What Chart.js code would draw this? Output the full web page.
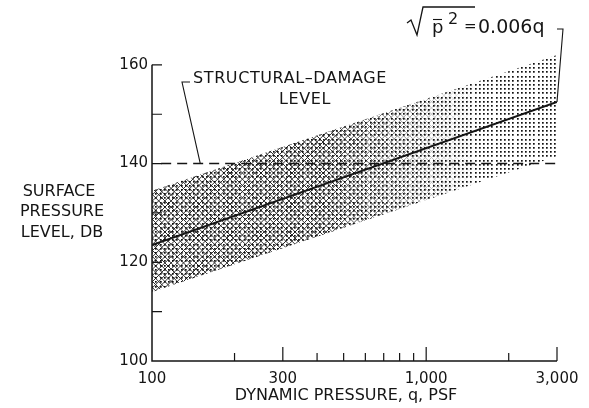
<!DOCTYPE html>
<html>
<head>
<meta charset="utf-8">
<script src="https://cdn.jsdelivr.net/npm/chart.js@4/dist/chart.umd.min.js"></script>
<style>
  html, body { margin: 0; padding: 0; background: #fff; }
  #wrap { width: 589px; height: 408px; }
</style>
</head>
<body>
<div id="wrap"><canvas id="g_ruido"></canvas></div>
<script>
// valores
var q_extremos = [100, 3000];
var nivel_medio = [123.5, 152.5];
var banda_superior = [134.5, 162];
var banda_inferior = [114, 141.5];
var nivel_dano = [140, 140];

var x_mayores = [100, 300, 1000, 3000];
var x_etiquetas = ['100', '300', '1,000', '3,000'];
var x_menores = [200, 400, 500, 600, 700, 800, 900, 2000];
var y_marcas = [110, 120, 130, 140, 150, 160];
var y_etiquetas = [100, 120, 140, 160];

var FUENTE = '"DejaVu Sans", sans-serif';
var TINTA = '#151515';

function puntos(xs, ys) {
    var d = [];
    for (let i = 0; i < xs.length; i++) {
        d.push({x: xs[i], y: ys[i]});
    }
    return d;
}

// trama: puntos por todo y rayado cruzado que se desvanece hacia la derecha
function trama(ctx) {
    var w = 589, h = 408;
    var base = document.createElement('canvas');
    base.width = w; base.height = h;
    var b = base.getContext('2d');

    var raya = document.createElement('canvas');
    raya.width = w; raya.height = h;
    var r = raya.getContext('2d');
    r.strokeStyle = '#222';
    r.lineWidth = 1;
    r.beginPath();
    for (let k = -h; k < w + h; k += 6.2) {
        r.moveTo(k, 0); r.lineTo(k + h, h);
        r.moveTo(k, h); r.lineTo(k + h, 0);
    }
    r.stroke();
    r.globalCompositeOperation = 'destination-in';
    var g = r.createLinearGradient(320, 0, 480, 0);
    g.addColorStop(0, 'rgba(0,0,0,0.95)');
    g.addColorStop(1, 'rgba(0,0,0,0)');
    r.fillStyle = g;
    r.fillRect(0, 0, w, h);

    b.drawImage(raya, 0, 0);
    b.fillStyle = '#111';
    for (let y = 0; y < h; y += 4.2) {
        for (let x = 0; x < w; x += 4.2) {
            b.fillRect(Math.round(x), Math.round(y), 1.7, 1.7);
        }
    }
    return ctx.createPattern(base, 'repeat');
}

var decorado = {
    id: 'decorado',
    afterDatasetsDraw: function (chart) {
        var ctx = chart.ctx;
        var sx = chart.scales.x, sy = chart.scales.y;
        var x0 = sx.getPixelForValue(100), x1 = sx.getPixelForValue(3000);
        var y0 = sy.getPixelForValue(100), y1 = sy.getPixelForValue(160);
        ctx.save();
        ctx.strokeStyle = TINTA;
        ctx.fillStyle = TINTA;
        ctx.lineWidth = 1.5;

        // ejes
        ctx.beginPath();
        ctx.moveTo(x0, y1); ctx.lineTo(x0, y0); ctx.lineTo(x1, y0);
        ctx.stroke();

        ctx.lineWidth = 1.2;
        ctx.beginPath();
        for (let i = 0; i < y_marcas.length; i++) {
            var py = sy.getPixelForValue(y_marcas[i]);
            ctx.moveTo(x0, py); ctx.lineTo(x0 + 10, py);
        }
        for (let i = 1; i < x_mayores.length; i++) {
            var px = sx.getPixelForValue(x_mayores[i]);
            ctx.moveTo(px, y0); ctx.lineTo(px, y0 - 14);
        }
        for (let i = 0; i < x_menores.length; i++) {
            var pm = sx.getPixelForValue(x_menores[i]);
            ctx.moveTo(pm, y0); ctx.lineTo(pm, y0 - 8);
        }
        ctx.stroke();

        // etiquetas de marcas
        ctx.font = '15px ' + FUENTE;
        ctx.textAlign = 'right';
        ctx.textBaseline = 'middle';
        for (let i = 0; i < y_etiquetas.length; i++) {
            ctx.fillText(String(y_etiquetas[i]), x0 - 4, sy.getPixelForValue(y_etiquetas[i]));
        }
        ctx.textAlign = 'center';
        for (let i = 0; i < x_mayores.length; i++) {
            ctx.fillText(x_etiquetas[i], sx.getPixelForValue(x_mayores[i]), y0 + 18);
        }

        // titulos
        ctx.font = '16px ' + FUENTE;
        ctx.fillText('DYNAMIC PRESSURE, q, PSF', 346, 396);
        ctx.fillText('SURFACE', 59, 192);
        ctx.fillText('PRESSURE', 62, 212);
        ctx.fillText('LEVEL, DB', 62, 233);

        // nota del nivel de dano estructural
        ctx.letterSpacing = '0.6px';
        ctx.textAlign = 'left';
        ctx.fillText('STRUCTURAL\u2013DAMAGE', 193, 79);
        ctx.textAlign = 'center';
        ctx.fillText('LEVEL', 305, 100);
        ctx.letterSpacing = '0px';
        ctx.lineWidth = 1.1;
        ctx.beginPath();
        ctx.moveTo(190, 82); ctx.lineTo(182, 82);
        ctx.lineTo(sx.getPixelForValue(150), sy.getPixelForValue(140));
        ctx.stroke();

        // formula: raiz dibujada, resto como texto
        ctx.lineWidth = 1.3;
        ctx.beginPath();
        ctx.moveTo(407, 23); ctx.lineTo(411, 20); ctx.lineTo(417, 35);
        ctx.lineTo(423, 7); ctx.lineTo(475, 7);
        ctx.stroke();
        ctx.textAlign = 'left';
        ctx.textBaseline = 'alphabetic';
        ctx.font = '18px ' + FUENTE;
        ctx.fillText('p', 432, 33);
        ctx.lineWidth = 1.1;
        ctx.beginPath();
        ctx.moveTo(433, 19.5); ctx.lineTo(442, 19.5);
        ctx.stroke();
        ctx.font = '16px ' + FUENTE;
        ctx.fillText('2', 448, 24);
        ctx.font = '15px ' + FUENTE;
        ctx.fillText('=', 464, 31);
        ctx.font = '19px ' + FUENTE;
        ctx.fillText('0.006q', 478, 33);
        ctx.beginPath();
        ctx.moveTo(557, 29); ctx.lineTo(563, 29);
        ctx.lineTo(x1, sy.getPixelForValue(nivel_medio[1]));
        ctx.stroke();

        ctx.restore();
    }
};

function grafica_ruido() {
    var lienzo = document.getElementById('g_ruido');
    var ctx = lienzo.getContext('2d');

    new Chart(lienzo, {
        type: 'line',
        data: {
            datasets: [{
                data: puntos(q_extremos, banda_superior),
                borderWidth: 0,
                pointRadius: 0,
                backgroundColor: trama(ctx),
                fill: '+1'
            }, {
                data: puntos(q_extremos, banda_inferior),
                borderWidth: 0,
                pointRadius: 0,
                fill: false
            }, {
                data: puntos(q_extremos, nivel_medio),
                borderColor: TINTA,
                borderWidth: 2,
                pointRadius: 0,
                fill: false
            }, {
                data: puntos([108, 3000], nivel_dano),
                borderColor: TINTA,
                borderWidth: 1.5,
                borderDash: [10, 6],
                pointRadius: 0,
                fill: false
            }]
        },
        options: {
            responsive: true,
            maintainAspectRatio: false,
            animation: false,
            layout: { padding: { left: 152, right: 32, top: 55, bottom: 47 } },
            plugins: {
                legend: { display: false },
                tooltip: { enabled: false }
            },
            scales: {
                x: { type: 'logarithmic', min: 100, max: 3000, display: false },
                y: { type: 'linear', min: 100, max: 162, display: false }
            }
        },
        plugins: [decorado]
    });
}

grafica_ruido();
</script>
</body>
</html>
